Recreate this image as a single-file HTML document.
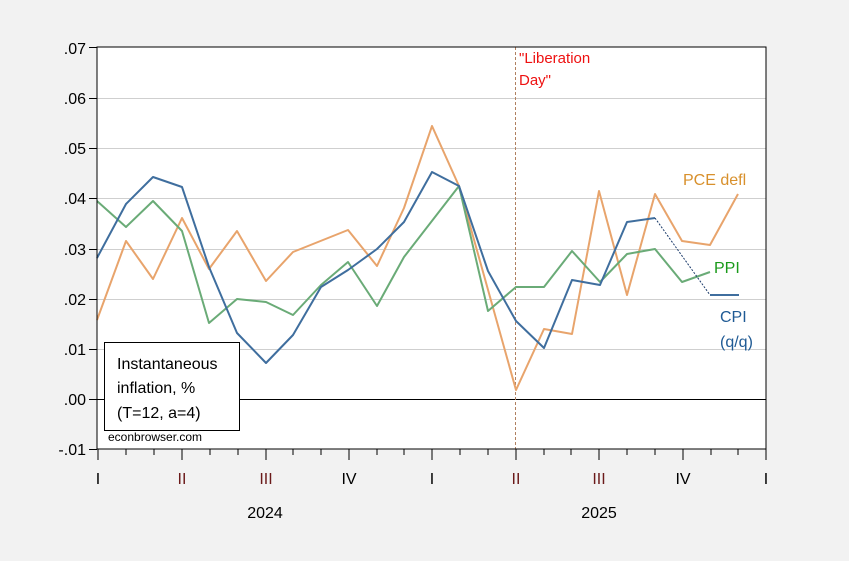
<!DOCTYPE html>
<html><head><meta charset="utf-8"><style>
body{margin:0;background:#f2f2f2;}
svg{display:block;font-family:"Liberation Sans",Arial,sans-serif;}
</style></head><body>
<svg width="849" height="561" viewBox="0 0 849 561">
<rect x="0" y="0" width="849" height="561" fill="#f2f2f2"/>
<rect x="97" y="47" width="669" height="402" fill="#fff"/>
<g stroke="#cfcfcf" stroke-width="1">
<line x1="97" y1="98.5" x2="766" y2="98.5"/>
<line x1="97" y1="148.5" x2="766" y2="148.5"/>
<line x1="97" y1="198.5" x2="766" y2="198.5"/>
<line x1="97" y1="249.5" x2="766" y2="249.5"/>
<line x1="97" y1="299.5" x2="766" y2="299.5"/>
<line x1="97" y1="349.5" x2="766" y2="349.5"/>
</g>
<line x1="97" y1="399.5" x2="766" y2="399.5" stroke="#000" stroke-width="1"/>
<line x1="515.5" y1="47" x2="515.5" y2="449" stroke="#b08060" stroke-width="1" stroke-dasharray="3,2"/>
<text x="519" y="63" font-size="15" fill="#ee1111">"Liberation</text>
<text x="519" y="85" font-size="15" fill="#ee1111">Day"</text>
<g fill="none" stroke-width="2" stroke-linejoin="round">
<polyline stroke="#e8a46c" points="97,320 126,241 153,279 182,218 209,269 237,231 266,281 293,252 348,230 377,266 404,208 432,126 459,186 516,390 544,329 572,334 599,191 627,295 655,194 682,241 710,245 738,194"/>
<polyline stroke="#6aab77" points="97,201 126,227 153,201 182,231 209,323 237,299 266,302 293,315 321,285 348,262 377,306 404,257 459,186 488,311 516,287 544,287 572,251 600,282 627,254 655,249 682,282 710,272"/>
<polyline stroke="#3f6e9e" points="97,258 126,204 153,177 182,187 209,267 237,333 266,363 293,335 321,287 348,270 377,249 404,222 432,172 459,186 488,271 516,321 544,348 572,280 600,285 627,222 655,218"/>
<line x1="710" y1="295" x2="739" y2="295" stroke="#3f6e9e"/>
</g>
<line x1="655" y1="218" x2="710" y2="295" stroke="#1a3a6a" stroke-width="1" stroke-dasharray="2,1.5"/>
<rect x="97" y="47" width="669" height="402" fill="none" stroke="#000" stroke-width="1"/>
<g font-size="16" fill="#000" text-anchor="end">
<text x="86" y="54">.07</text><text x="86" y="104">.06</text><text x="86" y="154">.05</text><text x="86" y="204">.04</text><text x="86" y="255">.03</text><text x="86" y="305">.02</text><text x="86" y="355">.01</text><text x="86" y="405">.00</text><text x="86" y="455">-.01</text>
</g>
<g stroke="#000" stroke-width="1">
<line x1="89" y1="47.5" x2="97" y2="47.5"/><line x1="89" y1="98.5" x2="97" y2="98.5"/><line x1="89" y1="148.5" x2="97" y2="148.5"/><line x1="89" y1="198.5" x2="97" y2="198.5"/><line x1="89" y1="249.5" x2="97" y2="249.5"/><line x1="89" y1="299.5" x2="97" y2="299.5"/><line x1="89" y1="349.5" x2="97" y2="349.5"/><line x1="89" y1="399.5" x2="97" y2="399.5"/><line x1="89" y1="449.5" x2="97" y2="449.5"/>
<line x1="98" y1="449" x2="98" y2="460"/><line x1="126" y1="449" x2="126" y2="455"/><line x1="154" y1="449" x2="154" y2="455"/>
<line x1="182" y1="449" x2="182" y2="460"/><line x1="210" y1="449" x2="210" y2="455"/><line x1="238" y1="449" x2="238" y2="455"/>
<line x1="266" y1="449" x2="266" y2="460"/><line x1="293" y1="449" x2="293" y2="455"/><line x1="321" y1="449" x2="321" y2="455"/>
<line x1="349" y1="449" x2="349" y2="460"/><line x1="377" y1="449" x2="377" y2="455"/><line x1="404" y1="449" x2="404" y2="455"/>
<line x1="432" y1="449" x2="432" y2="460"/><line x1="460" y1="449" x2="460" y2="455"/><line x1="488" y1="449" x2="488" y2="455"/>
<line x1="516" y1="449" x2="516" y2="460"/><line x1="544" y1="449" x2="544" y2="455"/><line x1="571" y1="449" x2="571" y2="455"/>
<line x1="599" y1="449" x2="599" y2="460"/><line x1="627" y1="449" x2="627" y2="455"/><line x1="655" y1="449" x2="655" y2="455"/>
<line x1="683" y1="449" x2="683" y2="460"/><line x1="711" y1="449" x2="711" y2="455"/><line x1="738" y1="449" x2="738" y2="455"/>
<line x1="766" y1="449" x2="766" y2="460"/>
</g>
<g font-size="16" text-anchor="middle">
<text x="98" y="484" fill="#000">I</text><text x="182" y="484" fill="#6b1a1a">II</text><text x="266" y="484" fill="#6b1a1a">III</text><text x="349" y="484" fill="#000">IV</text>
<text x="432" y="484" fill="#000">I</text><text x="516" y="484" fill="#6b1a1a">II</text><text x="599" y="484" fill="#6b1a1a">III</text><text x="683" y="484" fill="#000">IV</text><text x="766" y="484" fill="#000">I</text>
<text x="265" y="518" fill="#000">2024</text><text x="599" y="518" fill="#000">2025</text>
</g>
<text x="683" y="185" font-size="16" fill="#d8902c">PCE defl</text>
<text x="714" y="273" font-size="16" fill="#1a9a1a">PPI</text>
<text x="720" y="322" font-size="16" fill="#1f5a94">CPI</text>
<text x="720" y="347" font-size="16" fill="#1f5a94">(q/q)</text>
<text x="108" y="441" font-size="12" fill="#000">econbrowser.com</text>
<rect x="104.5" y="342.5" width="135" height="88" fill="#fff" stroke="#000" stroke-width="1"/>
<g font-size="16" fill="#000">
<text x="117" y="369">Instantaneous</text><text x="117" y="393">inflation, %</text><text x="117" y="418">(T=12, a=4)</text>
</g>
</svg>
</body></html>
